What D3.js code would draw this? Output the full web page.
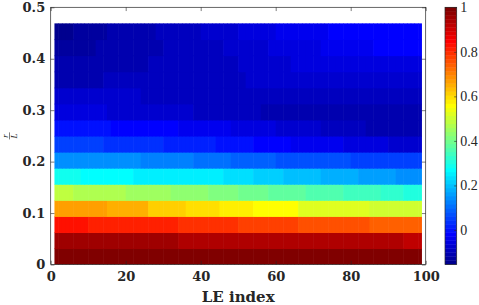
<!DOCTYPE html>
<html><head><meta charset="utf-8">
<script src="https://cdn.jsdelivr.net/npm/d3@7"></script>
<style>body{margin:0;background:#fff;} svg{display:block}</style>
</head><body><svg id="c" width="479" height="305"></svg>
<script>
// ---- data ----
const xTicks = [0, 20, 40, 60, 80, 100];
const yTicks = [0, 0.1, 0.2, 0.3, 0.4, 0.5];
const cbTicks = [0, 0.2, 0.4, 0.6, 0.8, 1];
const colorLimits = [-0.155, 1];
const columnRange = [1, 99];          // LE index extent of cells
const rowEdges = [0, 0.03125, 0.0625, 0.09375, 0.125, 0.15625, 0.1875, 0.21875,
  0.25, 0.28125, 0.3125, 0.34375, 0.375, 0.40625, 0.4375, 0.46875];
// each row: [starting LE index, value] pieces (bottom row first)
const row00 = [[1, 0.991]];
const row01 = [[1, 0.955], [34, 0.937], [94, 0.919]];
const row02 = [[1, 0.829], [10, 0.811], [34, 0.793], [50, 0.775], [66, 0.756], [85, 0.738]];
const row03 = [[1, 0.666], [15, 0.648], [26, 0.621], [36, 0.594], [45, 0.576], [54, 0.558], [66, 0.525], [85, 0.5]];
const row04 = [[1, 0.486], [6, 0.468], [20, 0.45], [32, 0.432], [42, 0.414], [50, 0.395], [58, 0.377], [68, 0.359], [78, 0.341], [88, 0.323], [94, 0.305]];
const row05 = [[1, 0.287], [8, 0.269], [22, 0.251], [46, 0.233], [54, 0.215], [62, 0.197], [72, 0.179], [82, 0.161], [92, 0.15]];
const row06 = [[1, 0.143], [24, 0.125], [38, 0.107], [48, 0.089], [60, 0.071], [80, 0.053]];
const row07 = [[1, 0.053], [14, 0.035], [30, 0.016], [44, -0.002], [54, -0.02], [64, -0.038], [78, -0.056], [90, -0.074]];
const row08 = [[1, -0.002], [16, -0.02], [34, -0.038], [48, -0.056], [60, -0.074], [72, -0.092], [84, -0.11]];
const row09 = [[1, -0.056], [15, -0.074], [38, -0.092], [56, -0.11]];
const row10 = [[1, -0.074], [24, -0.092]];
const row11 = [[1, -0.11], [14, -0.092], [52, -0.074]];
const row12 = [[1, -0.11], [26, -0.092], [50, -0.074], [64, -0.056]];
const row13 = [[1, -0.128], [12, -0.11], [30, -0.092], [46, -0.074], [58, -0.056], [72, -0.038], [86, -0.02]];
const row14 = [[1, -0.146], [6, -0.128], [15, -0.11], [28, -0.092], [40, -0.074], [50, -0.056], [60, -0.038], [74, -0.02]];
const rows = [row00, row01, row02, row03, row04, row05, row06, row07, row08, row09, row10, row11, row12, row13, row14];

// ---- MATLAB jet(64) colormap ----
function jet(m) {
  const n = Math.ceil(m / 4);
  const u = [];
  for (let k = 1; k <= n; k++) u.push(k / n);
  for (let k = 1; k < n; k++) u.push(1);
  for (let k = n; k >= 1; k--) u.push(k / n);
  const J = Array.from({length: m}, () => [0, 0, 0]);
  const off = Math.ceil(n / 2) - (m % 4 === 1 ? 1 : 0);
  const L = u.length;
  const rIdx = [], gIdx = [], bIdx = [];
  for (let k = 1; k <= L; k++) {
    const g = off + k;
    if (g <= m) gIdx.push(g);
    if (g + n <= m) rIdx.push(g + n);
    if (g - n >= 1) bIdx.push(g - n);
  }
  rIdx.forEach((ix, j) => J[ix - 1][0] = u[j]);
  gIdx.forEach((ix, j) => J[ix - 1][1] = u[j]);
  bIdx.forEach((ix, j) => J[ix - 1][2] = u[L - bIdx.length + j]);
  return J.map(c => d3.rgb(c[0] * 255, c[1] * 255, c[2] * 255).formatHex());
}
const jetColors = jet(64);
const color = d3.scaleQuantize().domain(colorLimits).range(jetColors);

// ---- layout ----
const svg = d3.select("#c");
const x = d3.scaleLinear().domain([0, 100]).range([50.7, 425.7]);
const y = d3.scaleLinear().domain([0, 0.5]).range([264.5, 7.3]);
const axisColor = "#262626";
const tickFont = "'DejaVu Serif', serif";
const rowH = rowEdges[1] - rowEdges[0];

// cells (slight overlap so no seams show)
const cells = [];
rows.forEach((segs, r) => {
  for (let c = columnRange[0]; c < columnRange[1]; c++) {
    let v = segs[0][1];
    segs.forEach(s => { if (c >= s[0]) v = s[1]; });
    cells.push({c, r, v});
  }
});
svg.append("g").selectAll("rect").data(cells).join("rect")
  .attr("x", d => x(d.c))
  .attr("width", d => x(d.c + 1) - x(d.c) + (d.c + 1 < columnRange[1] ? 0.6 : 0))
  .attr("y", d => y(rowEdges[d.r] + rowH))
  .attr("height", d => y(rowEdges[d.r]) - y(rowEdges[d.r] + rowH) + (d.r > 0 ? 0.6 : 0))
  .attr("fill", d => color(d.v));

// axes (inward ticks)
function styleAxis(g) {
  g.select(".domain").remove();
  g.selectAll(".tick line").attr("stroke", axisColor).attr("stroke-width", 0.6);
  g.selectAll(".tick text").attr("fill", "#262626").attr("font-family", tickFont)
    .attr("font-weight", "bold").attr("font-size", 13);
}
const fmt = d => d3.format("~g")(d);
svg.append("g").attr("transform", `translate(0,${y(0)})`)
  .call(d3.axisBottom(x).tickValues(xTicks).tickSize(-3.75).tickPadding(7.5).tickFormat(fmt)).call(styleAxis);
svg.append("g").attr("transform", `translate(0,${y(0.5)})`)
  .call(d3.axisTop(x).tickValues(xTicks).tickSize(-3.75).tickFormat("")).call(styleAxis);
svg.append("g").attr("transform", `translate(${x(0)},0)`)
  .call(d3.axisLeft(y).tickValues(yTicks).tickSize(-3.75).tickPadding(5.5).tickFormat(fmt)).call(styleAxis);
svg.append("g").attr("transform", `translate(${x(100)},0)`)
  .call(d3.axisRight(y).tickValues(yTicks).tickSize(-3.75).tickFormat("")).call(styleAxis);
svg.append("rect").attr("x", x(0)).attr("y", y(0.5)).attr("width", x(100) - x(0)).attr("height", y(0) - y(0.5))
  .attr("fill", "none").attr("stroke", axisColor).attr("stroke-width", 0.7);

// x label
svg.append("text").attr("x", (x(0) + x(100)) / 2).attr("y", 301.5).attr("text-anchor", "middle")
  .attr("font-family", tickFont).attr("font-weight", "bold").attr("font-size", 15).attr("fill", "#262626")
  .text("LE index");

// y label: r / L fraction, rotated
const yl = svg.append("g").attr("transform", `translate(9.5,${(y(0) + y(0.5)) / 2}) rotate(-90)`);
yl.append("text").attr("x", 0).attr("y", -1.2).attr("text-anchor", "middle")
  .attr("font-family", "'Liberation Serif', serif").attr("font-style", "italic").attr("font-size", 9).attr("fill", "#262626").text("r");
yl.append("line").attr("x1", -3.5).attr("x2", 3.5).attr("y1", 0).attr("y2", 0).attr("stroke", "#262626").attr("stroke-width", 0.6);
yl.append("text").attr("x", 0).attr("y", 7).attr("text-anchor", "middle")
  .attr("font-family", "'Liberation Serif', serif").attr("font-style", "italic").attr("font-size", 9).attr("fill", "#262626").text("L");

// colorbar
const cbX0 = 445, cbX1 = 456.7;
const cy = d3.scaleLinear().domain(colorLimits).range([264.5, 7.3]);
const step = (colorLimits[1] - colorLimits[0]) / jetColors.length;
svg.append("g").selectAll("rect").data(jetColors).join("rect")
  .attr("x", cbX0).attr("width", cbX1 - cbX0)
  .attr("y", (d, i) => cy(colorLimits[0] + (i + 1) * step) - 0.2)
  .attr("height", (d, i) => cy(colorLimits[0] + i * step) - cy(colorLimits[0] + (i + 1) * step) + 0.4)
  .attr("fill", d => d);
const cbAxis = svg.append("g").attr("transform", `translate(${cbX1},0)`)
  .call(d3.axisRight(cy).tickValues(cbTicks).tickSize(-2.5).tickPadding(3.5).tickFormat(fmt));
cbAxis.select(".domain").remove();
cbAxis.selectAll(".tick line").attr("stroke", axisColor).attr("stroke-width", 0.6);
cbAxis.selectAll(".tick text").attr("fill", "#262626").attr("font-family", "'Liberation Serif', serif").attr("font-size", 14);
svg.append("rect").attr("x", cbX0).attr("y", cy(colorLimits[1])).attr("width", cbX1 - cbX0)
  .attr("height", cy(colorLimits[0]) - cy(colorLimits[1]))
  .attr("fill", "none").attr("stroke", axisColor).attr("stroke-width", 0.7);
</script></body></html>
